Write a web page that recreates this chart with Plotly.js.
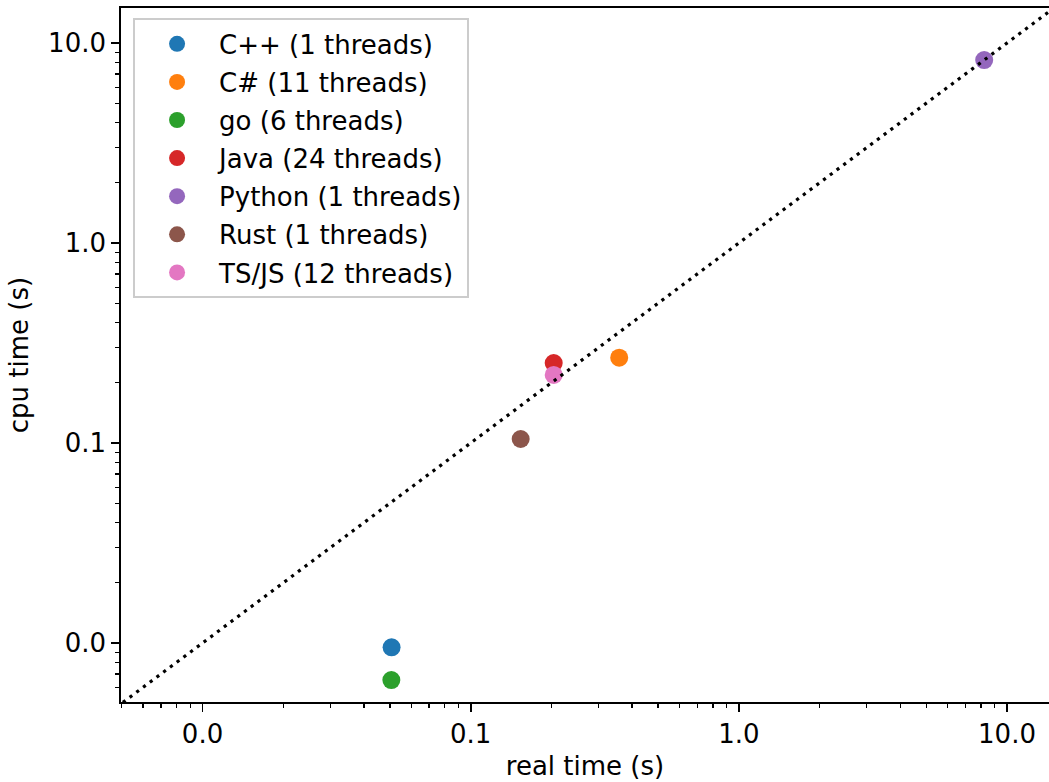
<!DOCTYPE html>
<html>
<head>
<meta charset="utf-8">
<script src="https://cdn.plot.ly/plotly-3.0.1.min.js"></script>
<style>
html,body{margin:0;padding:0;background:#fff;overflow:hidden;}
#chart{width:1049px;height:782px;}
</style>
</head>
<body>
<div id="chart"></div>
<script>
const languages = ["C++", "C#", "go", "Java", "Python", "Rust", "TS/JS"];
const threads = [1, 11, 6, 24, 1, 1, 12];
const realTime = [0.0507, 0.358, 0.0506, 0.204, 8.22, 0.1536, 0.204];
const cpuTime = [0.00951, 0.267, 0.00653, 0.251, 8.22, 0.1047, 0.219];
const colors = ["#1f77b4", "#ff7f0e", "#2ca02c", "#d62728", "#9467bd", "#8c564b", "#e377c2"];
const majorTickVals = [0.01, 0.1, 1, 10];
const majorTickText = ["0.0", "0.1", "1.0", "10.0"];
const diagonal = [0.001, 100];

const minorTickVals = [];
[0.001, 0.01, 0.1, 1, 10].forEach(d => {
  for (let k = 2; k <= 9; k++) minorTickVals.push(d * k);
});

const FONT = "DejaVu Sans, sans-serif";
const FS = 26;

const traces = languages.map((name, i) => ({
  type: "scatter",
  mode: "markers",
  x: [realTime[i]],
  y: [cpuTime[i]],
  name: name + " (" + threads[i] + " threads)",
  legendgroup: "g" + i,
  marker: {color: colors[i], size: 18, line: {width: 0}},
  hoverinfo: "x+y+name"
}));

traces.push({
  type: "scatter",
  mode: "lines",
  x: diagonal,
  y: diagonal,
  showlegend: false,
  line: {color: "black", width: 3.2, dash: "3.2px,5.2px"},
  hoverinfo: "skip"
});

const axisCommon = {
  type: "log",
  tickmode: "array",
  tickvals: majorTickVals,
  ticktext: majorTickText,
  ticks: "outside",
  ticklen: 8,
  tickwidth: 1.8,
  tickcolor: "black",
  showline: true,
  linecolor: "black",
  linewidth: 1.8,
  showgrid: false,
  zeroline: false,
  tickfont: {family: FONT, size: FS, color: "black"},
  minor: {
    tickmode: "array",
    tickvals: minorTickVals,
    ticks: "outside",
    ticklen: 4.5,
    tickwidth: 1.3,
    tickcolor: "black",
    showgrid: false
  }
};

const layout = {
  width: 1049,
  height: 782,
  margin: {l: 121, r: 0, t: 8, b: 80},
  paper_bgcolor: "white",
  plot_bgcolor: "white",
  font: {family: FONT, size: FS, color: "black"},
  xaxis: Object.assign({}, axisCommon, {
    range: [-2.304, 1.1566],
    mirror: true,
    ticklabelstandoff: 0,
    title: {text: "real time (s)", font: {family: FONT, size: FS, color: "black"}, standoff: 9}
  }),
  yaxis: Object.assign({}, axisCommon, {
    range: [-2.295, 1.175],
    mirror: false,
    ticklabelstandoff: 0,
    title: {text: "cpu time (s)", font: {family: FONT, size: FS, color: "black"}, standoff: 12}
  }),
  showlegend: true,
  legend: {
    x: 0.013,
    y: 0.985,
    xanchor: "left",
    yanchor: "top",
    bgcolor: "rgba(255,255,255,0.8)",
    bordercolor: "#cccccc",
    borderwidth: 2,
    font: {family: FONT, size: FS, color: "black"},
    tracegroupgap: 1.3,
    itemwidth: 74
  }
};

Plotly.newPlot("chart", traces, layout, {displayModeBar: false, staticPlot: true});
</script>
</body>
</html>
